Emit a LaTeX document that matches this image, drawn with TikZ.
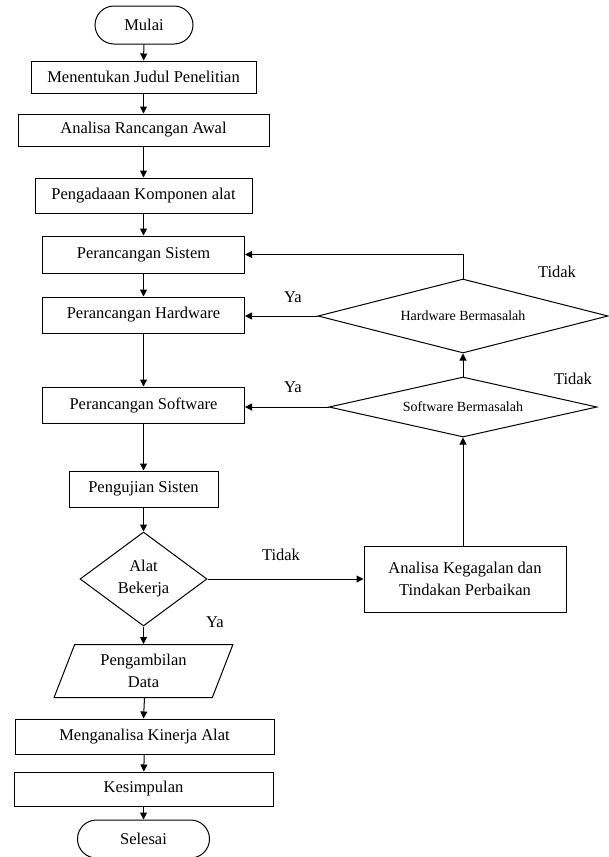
\documentclass[tikz,border=0pt]{standalone}
\usepackage{fontspec}
\setmainfont{Liberation Serif}
\usetikzlibrary{shapes.geometric,shapes.misc,arrows.meta}
\begin{document}
\begin{tikzpicture}[x=1pt,y=-1pt,font=\fontsize{16.5}{22}\selectfont,
  proc/.style={draw=black,line width=1pt,inner sep=0pt,align=center},
  term/.style={proc,rounded rectangle,minimum width=#1,minimum height=38pt},
  decision/.style={proc,diamond,aspect=#1},
  io/.style={proc,trapezium,trapezium left angle=69,trapezium right angle=111,trapezium stretches=true},
  flow/.style={line width=1pt,-{Triangle[length=7pt,width=7pt]}}]
\useasboundingbox (0,0) rectangle (608,857);
\node[term=98pt] (mulai) at (144,25) {Mulai};
\node[proc,minimum width=225pt,minimum height=32pt] (judul) at (143.5,77) {Menentukan Judul Penelitian};
\node[proc,minimum width=251pt,minimum height=32pt] (awal) at (143.5,130) {Analisa Rancangan Awal};
\node[proc,minimum width=217pt,minimum height=35pt] (komponen) at (143.5,195.5) {Pengadaaan Komponen alat};
\node[proc,minimum width=202pt,minimum height=37pt] (sistem) at (143.5,254.5) {Perancangan Sistem};
\node[proc,minimum width=202pt,minimum height=36pt] (hardware) at (143.5,315) {Perancangan Hardware};
\node[proc,minimum width=202pt,minimum height=36pt] (software) at (143.5,405) {Perancangan Software};
\node[proc,minimum width=149pt,minimum height=36pt] (uji) at (143.5,489) {Pengujian Sisten};
\node[decision=1.35,minimum width=127pt,minimum height=94pt] (alat) at (143.5,579) {Alat\\Bekerja};
\node[io,minimum width=179pt,minimum height=53pt] (data) at (143.5,671) {Pengambilan\\Data};
\node[proc,minimum width=259pt,minimum height=35pt] (kinerja) at (144.5,736.5) {Menganalisa Kinerja Alat};
\node[proc,minimum width=259pt,minimum height=34pt] (kesimpulan) at (143.5,789) {Kesimpulan};
\node[term=132pt] (selesai) at (143.5,839) {Selesai};
\node[decision=3.92,font=\fontsize{14}{16}\selectfont,minimum width=290pt,minimum height=74pt] (hwcek) at (463,316) {Hardware Bermasalah};
\node[decision=4.47,font=\fontsize{14}{16}\selectfont,minimum width=268pt,minimum height=60pt] (swcek) at (463,407) {Software Bermasalah};
\node[proc,minimum width=202pt,minimum height=66pt] (gagal) at (465,579) {Analisa Kegagalan dan\\Tindakan Perbaikan};
\node (tidakhw) at (557,272) {Tidak};
\node (tidaksw) at (573,379) {Tidak};
\node (tidakalat) at (281,555) {Tidak};
\node (yahw) at (293,297) {Ya};
\node (yasw) at (293,387) {Ya};
\node (yaalat) at (215,622) {Ya};
\draw[flow] (mulai) -- (judul);
\draw[flow] (judul) -- (awal);
\draw[flow] (awal) -- (komponen);
\draw[flow] (komponen) -- (sistem);
\draw[flow] (sistem) -- (hardware);
\draw[flow] (hardware) -- (software);
\draw[flow] (software) -- (uji);
\draw[flow] (uji) -- (alat);
\draw[flow] (alat) -- (data);
\draw[flow] (data.south -| kinerja.north) -- (kinerja.north -| data.south);
\draw[flow] (kinerja) -- (kesimpulan);
\draw[flow] (kesimpulan) -- (selesai);
\draw[flow] (alat.east) -- (gagal.west |- alat.east);
\draw[flow] (gagal.north -| swcek.south) -- (swcek.south);
\draw[flow] (swcek.north) -- (hwcek.south);
\draw[flow] (swcek.west) -- (software.east |- swcek.west);
\draw[flow] (hwcek.west) -- (hardware.east |- hwcek.west);
\draw[flow] (hwcek.north) |- (sistem.east);
\end{tikzpicture}
\end{document}
